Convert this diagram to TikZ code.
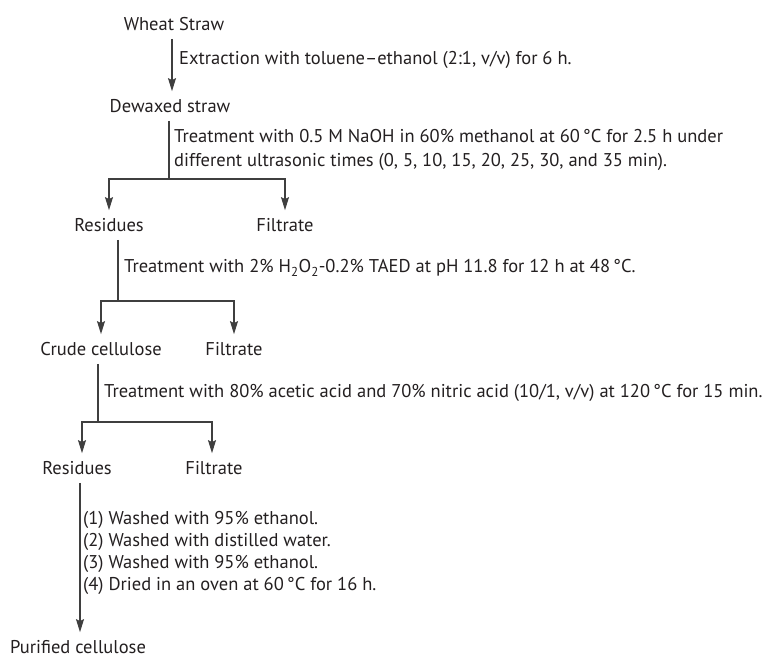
\documentclass[tikz,border=0pt]{standalone}
\usepackage{fontspec}
\setmainfont{PT Sans}
\usepackage{tikz}
\usetikzlibrary{arrows.meta, positioning, calc}
\definecolor{inkdark}{HTML}{231F20}
\definecolor{lineg}{HTML}{3F3F3F}
\tikzset{
  stage/.style={inner xsep=2pt, inner ysep=8pt, font=\fontsize{18.5}{22}\selectfont,
                text=inkdark},
  note/.style={anchor=west, align=left, inner sep=0pt,
               font=\fontsize{18.5}{#1}\selectfont, text=inkdark},
  note/.default=24,
  arr/.style={-{Stealth[length=13pt, width=8pt, inset=2pt]}, line width=1.2pt, draw=lineg},
  stem/.style={line width=1.2pt, draw=lineg},
}

\begin{document}
\begin{tikzpicture}[x=1pt, y=-1pt]
  \useasboundingbox (0,0) rectangle (766,659);

  % Products — top to bottom
  \node[stage] (wheat) at (174,24) {Wheat Straw};
  \node[stage] (dewaxed) at (170,106) {Dewaxed straw};
  \node[stage] (res1) at (109,225) {Residues};
  \node[stage] (filt1) at (285,225) {Filtrate};
  \node[stage] (crude) at (101,349) {Crude cellulose};
  \node[stage] (filt2) at (234,349) {Filtrate};
  \node[stage] (res2) at (77,468) {Residues};
  \node[stage] (filt3) at (214,468) {Filtrate};
  \node[stage] (purified) at (78,647) {Purified cellulose};

  % Branch points
  \coordinate (split1) at (169,179);
  \coordinate (split2) at (118,301);
  \coordinate (split3) at (98,422);

  % Conditions
  \node[note] (cond1) at (179,60) {Extraction with toluene–ethanol (2:1, v/v) for 6 h.};
  \node[note] (cond2) at (174,150) {Treatment with 0.5 M NaOH in 60\% methanol at 60\,°C for 2.5 h under\\
            different ultrasonic times (0, 5, 10, 15, 20, 25, 30, and 35 min).};
  \node[note] (cond3) at (124,268) {Treatment with 2\% H\textsubscript{2}O\textsubscript{2}-0.2\% TAED at pH 11.8 for 12 h at 48\,°C.};
  \node[note] (cond4) at (104,393) {Treatment with 80\% acetic acid and 70\% nitric acid (10/1, v/v) at 120\,°C for 15 min.};
  \node[note=22] (cond5) at (83,553) {(1) Washed with 95\% ethanol.\\
            (2) Washed with distilled water.\\
            (3) Washed with 95\% ethanol.\\
            (4) Dried in an oven at 60\,°C for 16 h.};

  % Arrows
  \draw[arr] (wheat.south -| 172,0) -- (dewaxed.north -| 172,0);
  \draw[stem] (dewaxed.south -| split1) -- (split1);
  \draw[arr] (split1) -| (res1.north);
  \draw[arr] (split1) -| (filt1.north);
  \draw[stem] (res1.south -| split2) -- (split2);
  \draw[arr] (split2) -| (crude.north);
  \draw[arr] (split2) -| (filt2.north);
  \draw[stem] (crude.south -| split3) -- (split3);
  \draw[arr] (split3) -| (res2.north -| 82,0);
  \draw[arr] (split3) -| (filt3.north -| 212,0);
  \draw[arr] (res2.south -| 80,0) -- (purified.north -| 80,0);
\end{tikzpicture}
\end{document}
